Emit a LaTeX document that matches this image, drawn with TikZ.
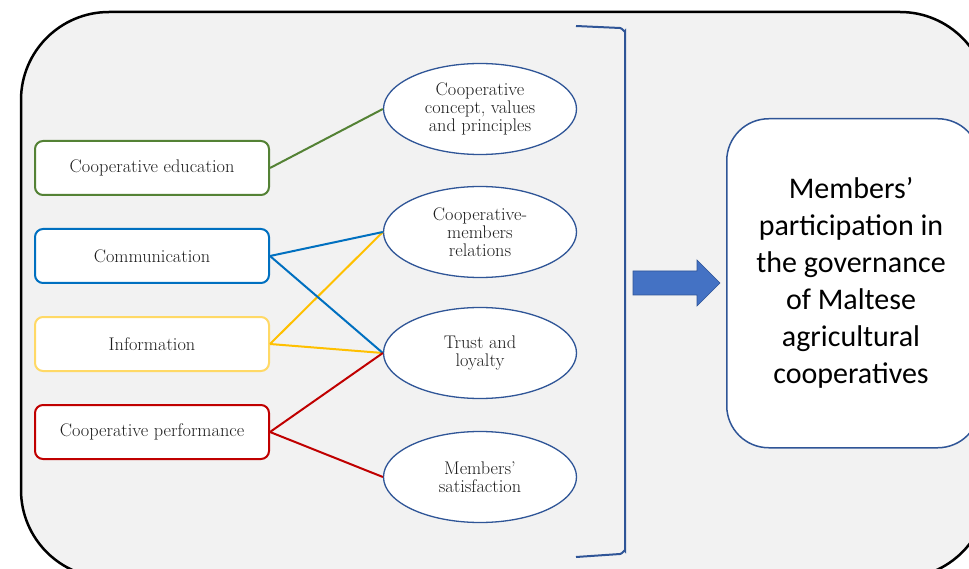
\documentclass[tikz,border=0pt]{standalone}
\usepackage{fontspec}
\newfontfamily\calibri{Carlito}
\definecolor{panel}{HTML}{F2F2F2}
\definecolor{cgreen}{HTML}{548235}
\definecolor{cblue}{HTML}{0070C0}
\definecolor{cyellowbox}{HTML}{FFD966}
\definecolor{cyellow}{HTML}{FFC000}
\definecolor{cred}{HTML}{C00000}
\definecolor{edge}{HTML}{2F5597}
\definecolor{arrowfill}{HTML}{4472C4}
\definecolor{ink}{HTML}{1E1E1E}
\tikzset{
  factor/.style={draw, line width=2pt, rounded corners=8pt, fill=white,
    minimum width=234pt, minimum height=54pt, inner sep=0pt,
    font=\fontsize{18.3}{18.5}\selectfont, text=ink},
  aspect/.style={draw=edge, line width=1.3pt, ellipse, fill=white,
    minimum width=193pt, minimum height=91pt, inner sep=0pt, align=center,
    font=\fontsize{18.3}{18.3}\selectfont, text=ink},
  link/.style={line width=2pt},
}
\usetikzlibrary{shapes.geometric}
\begin{document}
\begin{tikzpicture}[x=1pt,y=-1pt]
\clip (0,0) rectangle (969,569);
% outer panel
\draw[line width=2.5pt, fill=panel, rounded corners=88pt] (21,12) rectangle (988,578);

% left-hand factors
\node[factor, draw=cgreen] (edu) at (152,168) {Cooperative education};
\node[factor, draw=cblue] (com) at (152,256) {Communication};
\node[factor, draw=cyellowbox] (inf) at (152,344) {Information};
\node[factor, draw=cred] (perf) at (152,432) {Cooperative performance};

% middle aspects
\node[aspect] (concept) at (480,109) {Cooperative\\concept, values\\and principles};
\node[aspect] (rel) at (480,232) {Cooperative-\\members\\relations};
\node[aspect] (trust) at (480,353) {Trust and\\loyalty};
\node[aspect] (sat) at (480,477) {Members'\\satisfaction};

% links
\draw[link, cgreen] (edu.east) -- (concept.west);
\draw[link, cyellow] (inf.east) -- (rel.west);
\draw[link, cyellow] (inf.east) -- (trust.west);
\draw[link, cblue] (com.east) -- (rel.west);
\draw[link, cblue] (com.east) -- (trust.west);
\draw[link, cred] (perf.east) -- (trust.west);
\draw[link, cred] (perf.east) -- (sat.west);

% bracket
\coordinate (bt) at (576,26);
\coordinate (bb) at (576,557);
\draw[edge, line width=2pt] (bt) -- (620,28) to[out=0,in=-90] (625,31) -- (625,551)
  to[out=90,in=0] (620,554) -- (bb);

% block arrow
\draw[draw=edge, fill=arrowfill, line width=0.6pt]
  (633,271) -- (697,271) -- (697,260) -- (720,283) -- (697,306) -- (697,295) -- (633,295) -- cycle;

% outcome
\node[draw=edge, line width=1.5pt, fill=white, rounded corners=42pt,
  minimum width=253pt, minimum height=329pt, anchor=north west] (out) at (726,118) {};
\node[align=center, font=\calibri\fontsize{30}{37}\selectfont, text=black] (outtext) at (851,283)
  {Members’\\participation in\\the governance\\of Maltese\\agricultural\\cooperatives};
\end{tikzpicture}
\end{document}
